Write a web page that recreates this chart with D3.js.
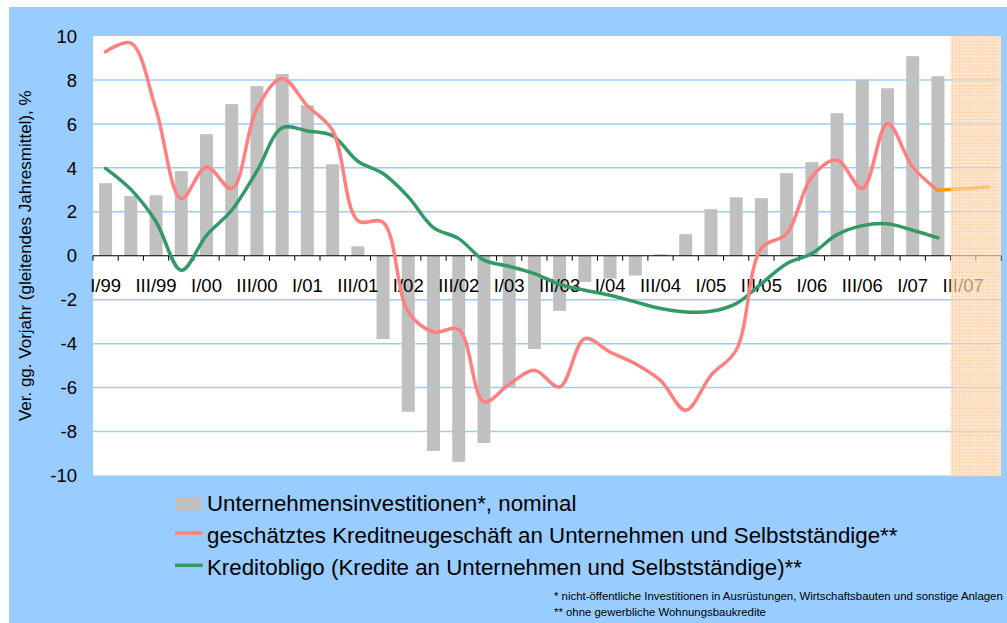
<!DOCTYPE html>
<html>
<head>
<meta charset="utf-8">
<script src="https://cdn.jsdelivr.net/npm/d3@7/dist/d3.min.js"></script>
<style>
  body { margin: 0; background: #fff; }
  text { font-family: Arial, "Liberation Sans", sans-serif; fill: #000; }
</style>
</head>
<body>
<svg id="chart" width="1007" height="623"></svg>
<script>
// quarters I/99 .. IV/07
const categories = [
  "I/99", "II/99", "III/99", "IV/99", "I/00", "II/00", "III/00", "IV/00",
  "I/01", "II/01", "III/01", "IV/01", "I/02", "II/02", "III/02", "IV/02",
  "I/03", "II/03", "III/03", "IV/03", "I/04", "II/04", "III/04", "IV/04",
  "I/05", "II/05", "III/05", "IV/05", "I/06", "II/06", "III/06", "IV/06",
  "I/07", "II/07", "III/07", "IV/07"
];
const tickLabels = ["I/99", "III/99", "I/00", "III/00", "I/01", "III/01", "I/02", "III/02",
  "I/03", "III/03", "I/04", "III/04", "I/05", "III/05", "I/06", "III/06", "I/07", "III/07"];
const yTicks = [-10, -8, -6, -4, -2, 0, 2, 4, 6, 8, 10];

// Unternehmensinvestitionen, nominal (bars)
const investitionen = [3.3, 2.72, 2.75, 3.85, 5.53, 6.9, 7.72, 8.27, 6.85, 4.16, 0.43, -3.79,
  -7.1, -8.88, -9.38, -8.52, -5.97, -4.24, -2.51, -1.19, -1.04, -0.9, 0.07, 0.98,
  2.12, 2.66, 2.62, 3.76, 4.26, 6.49, 8.0, 7.62, 9.08, 8.17, null, null];
// geschätztes Kreditneugeschäft
const kreditneu = [9.28, 9.68, 6.65, 2.6, 4.04, 3.06, 6.7, 8.07, 6.82, 5.7, 1.6, 1.52,
  -2.55, -3.47, -3.35, -6.65, -5.85, -5.21, -5.97, -3.77, -4.38, -4.91, -5.67, -7.03,
  -5.44, -4.3, 0.35, 1.0, 3.59, 4.35, 3.06, 6.02, 4.04, 2.98, null, null];
// Prognose (orange)
const prognose = [null, null, null, null, null, null, null, null, null, null, null, null,
  null, null, null, null, null, null, null, null, null, null, null, null,
  null, null, null, null, null, null, null, null, null, 2.98, 3.05, 3.13];
// Kreditobligo
const kreditobligo = [3.98, 3.02, 1.55, -0.66, 0.93, 2.07, 3.85, 5.82, 5.68, 5.46, 4.3, 3.74,
  2.68, 1.28, 0.78, -0.2, -0.48, -0.81, -1.3, -1.57, -1.8, -2.1, -2.4, -2.56,
  -2.53, -2.18, -1.27, -0.36, 0.1, 0.96, 1.37, 1.46, 1.16, 0.81, null, null];
const shadedCats = ["III/07", "IV/07"];

const legendItems = [
  {label: "Unternehmensinvestitionen*, nominal", type: "bar", color: "#C0C0C0"},
  {label: "geschätztes Kreditneugeschäft an Unternehmen und Selbstständige**", type: "line", color: "#FF8080"},
  {label: "Kreditobligo (Kredite an Unternehmen und Selbstständige)**", type: "line", color: "#339966"}
];
const footnotes = [
  "* nicht-öffentliche Investitionen in Ausrüstungen, Wirtschaftsbauten und sonstige Anlagen",
  "** ohne gewerbliche Wohnungsbaukredite"
];

const svg = d3.select("#chart");
const plotLeft = 93, plotRight = 1001, plotTop = 36, plotBottom = 475.5;
const pad = 0.485;

const x = d3.scaleBand().domain(categories).range([plotLeft, plotRight])
  .paddingInner(pad).paddingOuter(pad / 2);
const step = x.step();
const cx = (c) => x(c) + x.bandwidth() / 2;
const y = d3.scaleLinear().domain([-10, 10]).range([plotBottom, plotTop]);

// background
svg.append("rect").attr("x", 9).attr("y", 7).attr("width", 998).attr("height", 616).attr("fill", "#99CCFF");
svg.append("rect").attr("x", plotLeft).attr("y", plotTop).attr("width", plotRight - plotLeft)
  .attr("height", plotBottom - plotTop).attr("fill", "#fff");

// pattern for forecast area
const defs = svg.append("defs");
const pat = defs.append("pattern").attr("id", "grid").attr("patternUnits", "userSpaceOnUse")
  .attr("width", 3.4).attr("height", 3.4);
pat.append("rect").attr("width", 3.4).attr("height", 3.4).attr("fill", "#FFE0C2");
pat.append("rect").attr("width", 3.4).attr("height", 0.8).attr("fill", "#FFC48A");
pat.append("rect").attr("width", 0.8).attr("height", 3.4).attr("fill", "#FFC48A");

// gridlines
svg.append("g").selectAll("line")
  .data(yTicks.filter(d => d != 0 && d != 10 && d != -10)).enter()
  .append("line")
    .attr("x1", plotLeft).attr("x2", plotRight)
    .attr("y1", d => y(d)).attr("y2", d => y(d))
    .attr("stroke", "#99CCFF").attr("stroke-width", 1.5);

// y tick labels
svg.append("g").selectAll("text")
  .data(yTicks).enter()
  .append("text")
    .attr("x", 77).attr("y", d => y(d)).attr("dy", "0.36em")
    .attr("text-anchor", "end").style("font-size", "18.5px")
    .text(d => d);

// bars
const barData = categories.map((c, i) => ({c: c, v: investitionen[i]})).filter(d => d.v != null);
svg.append("g").selectAll("rect")
  .data(barData).enter()
  .append("rect")
    .attr("x", d => x(d.c))
    .attr("y", d => y(Math.max(0, d.v)))
    .attr("width", x.bandwidth())
    .attr("height", d => Math.abs(y(d.v) - y(0)))
    .attr("fill", "#C0C0C0");

// x axis line + ticks at category boundaries
svg.append("line").attr("x1", plotLeft).attr("x2", plotRight).attr("y1", y(0)).attr("y2", y(0))
  .attr("stroke", "#000").attr("stroke-width", 1);
const bounds = categories.map(c => x(c) - step * pad / 2).concat([plotRight]);
svg.append("g").selectAll("line")
  .data(bounds).enter()
  .append("line")
    .attr("x1", d => d).attr("x2", d => d)
    .attr("y1", y(0)).attr("y2", y(0) + 5)
    .attr("stroke", "#000").attr("stroke-width", 1);

// x tick labels
svg.append("g").selectAll("text")
  .data(tickLabels).enter()
  .append("text")
    .attr("x", d => cx(d)).attr("y", y(0) + 36)
    .attr("text-anchor", "middle").style("font-size", "18.5px")
    .text(d => d);

// lines
function drawLine (values, color) {
  const pts = categories.map((c, i) => ({c: c, v: values[i]})).filter(d => d.v != null);
  const line = d3.line().x(d => cx(d.c)).y(d => y(d.v)).curve(d3.curveCatmullRom.alpha(0.5));
  svg.append("path").datum(pts)
    .attr("d", line)
    .attr("fill", "none").attr("stroke", color).attr("stroke-width", 3.5)
    .attr("stroke-linecap", "round").attr("stroke-linejoin", "round");
}
drawLine(kreditobligo, "#339966");
drawLine(kreditneu, "#FF8080");
drawLine(prognose, "#FF9900");

// shaded forecast area (on top, semi transparent)
const sx0 = x(shadedCats[0]) - step * pad / 2;
svg.append("rect")
  .attr("x", sx0).attr("y", plotTop)
  .attr("width", plotRight - sx0).attr("height", plotBottom - plotTop + 1)
  .attr("fill", "url(#grid)").attr("opacity", 0.7);

// y axis title
svg.append("text")
  .attr("transform", "translate(30.5," + (plotTop + plotBottom) / 2 + ") rotate(-90)")
  .attr("text-anchor", "middle").style("font-size", "17px")
  .text("Ver. gg. Vorjahr (gleitendes Jahresmittel), %");

// legend
const legend = svg.append("g");
legendItems.forEach((item, i) => {
  const base = 510.7 + i * 32.3;
  if (item.type == "bar") {
    legend.append("rect").attr("x", 176).attr("y", base - 13.7).attr("width", 25.7).attr("height", 13.7)
      .attr("fill", item.color);
  } else {
    legend.append("line").attr("x1", 175).attr("x2", 202.7).attr("y1", base - 10).attr("y2", base - 10)
      .attr("stroke", item.color).attr("stroke-width", 3.5);
  }
  legend.append("text").attr("x", 207).attr("y", base).style("font-size", "22.3px").text(item.label);
});

// footnotes
svg.append("g").selectAll("text")
  .data(footnotes).enter()
  .append("text")
    .attr("x", 554).attr("y", (d, i) => 599.5 + i * 16)
    .style("font-size", "11.4px")
    .text(d => d);
</script>
</body>
</html>
